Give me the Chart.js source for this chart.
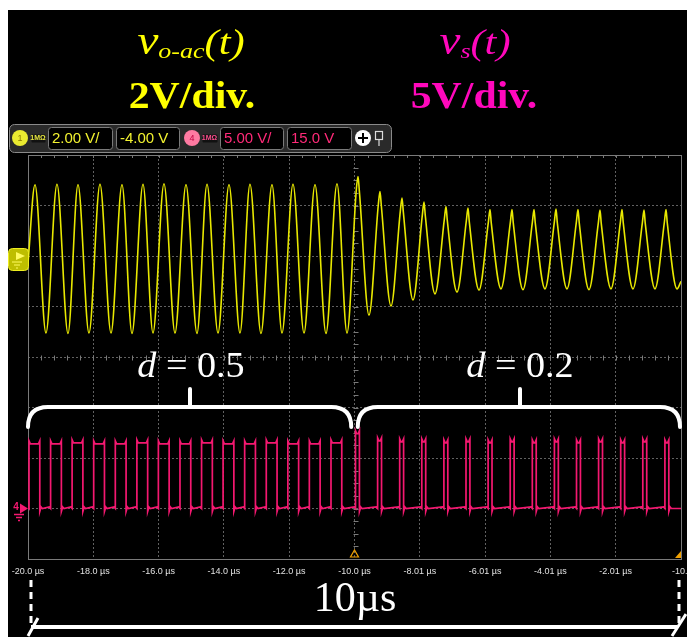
<!DOCTYPE html>
<html>
<head>
<meta charset="utf-8">
<script src="https://cdn.jsdelivr.net/npm/chart.js@4"></script>
<style>
html, body { margin: 0; padding: 0; background: #fff; }
#wrap { position: relative; width: 687px; height: 637px; }
</style>
</head>
<body>
<div id="wrap"><canvas id="scope"></canvas></div>
<script>
// time axis (µs)
const xTickValues = [-20, -18, -16, -14, -12, -10, -8, -6, -4, -2, 0];
const xTickLabels = ['-20.0 µs', '-18.0 µs', '-16.0 µs', '-14.0 µs', '-12.0 µs', '-10.0 µs',
                     '-8.01 µs', '-6.01 µs', '-4.01 µs', '-2.01 µs', '-10.0 ns'];

// channel 1: vo-ac(t), turning points (µs, V)
// right half: spike shoulder / spike top / shoulder / trough per cycle
const voTimes = [-20.0,
  -19.786, -19.449, -19.112, -18.775, -18.469, -18.132, -17.795, -17.458, -17.121, -16.815,
  -16.478, -16.172, -15.835, -15.498, -15.161, -14.824, -14.518, -14.181, -13.844, -13.507,
  -13.201, -12.864, -12.527, -12.220, -11.884, -11.547, -11.210, -10.873, -10.536, -10.230,
  -9.943, -9.893, -9.853, -9.556,   -9.269, -9.219, -9.179, -8.882,
  -8.595, -8.545, -8.505, -8.208,   -7.921, -7.871, -7.831, -7.534,
  -7.248, -7.198, -7.158, -6.861,   -6.574, -6.524, -6.484, -6.187,
  -5.900, -5.850, -5.810, -5.513,   -5.226, -5.176, -5.136, -4.839,
  -4.552, -4.502, -4.462, -4.165,   -3.878, -3.828, -3.788, -3.491,
  -3.205, -3.155, -3.115, -2.818,   -2.531, -2.481, -2.441, -2.144,
  -1.857, -1.807, -1.767, -1.470,   -1.183, -1.133, -1.093, -0.796,
  -0.509, -0.459, -0.419, -0.122,   0.0];
const voVolts = [-0.3,
  2.82, -3.05, 2.84, -3.07, 2.82, -3.05, 2.84, -3.05, 2.82, -3.07,
  2.84, -3.05, 2.86, -3.05, 2.82, -3.07, 2.84, -3.05, 2.82, -3.05,
  2.84, -3.07, 2.82, -3.05, 2.84, -3.05, 2.82, -3.07, 2.86, -3.05,
  2.65, 3.15, 2.60, -2.34,   2.05, 2.55, 2.00, -1.98,
  1.80, 2.30, 1.75, -1.74,   1.64, 2.14, 1.59, -1.50,
  1.46, 1.96, 1.41, -1.43,   1.40, 1.90, 1.35, -1.35,
  1.34, 1.84, 1.29, -1.30,   1.34, 1.84, 1.29, -1.33,
  1.34, 1.84, 1.29, -1.30,   1.36, 1.86, 1.31, -1.30,
  1.34, 1.84, 1.29, -1.33,   1.32, 1.82, 1.27, -1.30,
  1.34, 1.84, 1.29, -1.30,   1.32, 1.82, 1.27, -1.30,
  1.34, 1.84, 1.29, -1.30,   -1.0];

// channel 4: vs(t) switching pulses (µs, V)
const vsRise = [-19.969, -19.308, -18.649, -17.988, -17.326, -16.665, -16.007, -15.345,
  -14.684, -14.025, -13.364, -12.702, -12.041, -11.383, -10.720,
  -9.969, -9.292, -8.616, -7.939, -7.262, -6.585, -5.908, -5.231,
  -4.554, -3.877, -3.200, -2.524, -1.847, -1.170, -0.493];
const vsFall = [-19.639, -18.978, -18.319, -17.658, -16.996, -16.335, -15.677, -15.015,
  -14.354, -13.695, -13.034, -12.372, -11.711, -11.053, -10.390,
  -9.849, -9.172, -8.496, -7.819, -7.142, -6.465, -5.788, -5.111,
  -4.434, -3.757, -3.080, -2.404, -1.727, -1.050, -0.373];
const vsHigh = [6.4, 6.4, 6.5, 6.4, 6.4, 6.5, 6.4, 6.4, 6.5, 6.4, 6.4, 6.5, 6.4, 6.4, 6.5,
  7.4, 6.7, 6.6, 6.6, 6.5, 6.6, 6.5, 6.6, 6.5, 6.6, 6.5, 6.6, 6.5, 6.6, 6.5];

// edge ringing look of the probe trace
const vsRing = 0.3, ringDt = 0.04;

const voData = voTimes.map((t, i) => ({x: t, y: voVolts[i]}));
const vsData = [{x: -20, y: 0}];
vsRise.forEach((t, i) => {
    const h = vsHigh[i];
    vsData.push({x: t - ringDt, y: vsRing * 0.5}, {x: t, y: 0}, {x: t, y: h + vsRing}, {x: t + ringDt, y: h},
                {x: vsFall[i] - ringDt, y: h}, {x: vsFall[i], y: h + vsRing}, {x: vsFall[i], y: -vsRing},
                {x: vsFall[i] + ringDt, y: vsRing * 0.5}, {x: vsFall[i] + 2 * ringDt, y: 0});
});
vsData.push({x: 0, y: 0});

const YEL = '#e8e800';
const PINK = '#f41870';
const SERIF = '"Liberation Serif", "DejaVu Serif", serif';
const SANS = '"Liberation Sans", Arial, sans-serif';

function drawParts(ctx, parts, cx, baseline, color, sx) {
    sx = sx || 1;
    let w = 0;
    parts.forEach(p => { ctx.font = p.f; w += ctx.measureText(p.t).width; });
    ctx.save();
    ctx.translate(cx - w * sx / 2, baseline);
    ctx.scale(sx, 1);
    let x = 0;
    ctx.fillStyle = color;
    ctx.textAlign = 'left';
    ctx.textBaseline = 'alphabetic';
    parts.forEach(p => {
        ctx.font = p.f;
        ctx.fillText(p.t, x, p.dy || 0);
        x += ctx.measureText(p.t).width;
    });
    ctx.restore();
}

function box(ctx, x0, x1, y0, y1, r, fill, stroke) {
    ctx.beginPath();
    ctx.roundRect(x0 + 0.5, y0 + 0.5, x1 - x0, y1 - y0, r);
    ctx.fillStyle = fill;
    ctx.fill();
    if (stroke) { ctx.strokeStyle = stroke; ctx.lineWidth = 1; ctx.stroke(); }
}

const scopeFace = {
    id: 'scopeFace',
    beforeDraw: chart => {
        const ctx = chart.ctx;
        ctx.save();
        ctx.fillStyle = '#fff';
        ctx.fillRect(0, 0, chart.width, chart.height);
        ctx.fillStyle = '#000';
        ctx.fillRect(8, 10, chart.width - 8, chart.height - 10);

        // headings
        drawParts(ctx, [
            {t: 'v', f: 'italic 40px ' + SERIF},
            {t: 'o-ac', f: 'italic 22px ' + SERIF, dy: 4},
            {t: '(t)', f: 'italic 36px ' + SERIF}
        ], 191, 54, '#ffff00', 1.18);
        drawParts(ctx, [
            {t: 'v', f: 'italic 40px ' + SERIF},
            {t: 's', f: 'italic 22px ' + SERIF, dy: 4},
            {t: '(t)', f: 'italic 36px ' + SERIF}
        ], 475, 54, '#ff08bc', 1.18);
        drawParts(ctx, [{t: '2V/div.', f: 'bold 38px ' + SERIF}], 192, 108, '#ffff00', 1.1);
        drawParts(ctx, [{t: '5V/div.', f: 'bold 38px ' + SERIF}], 474, 108, '#ff08bc', 1.1);

        // channel toolbar
        box(ctx, 9, 391, 124, 152, 5, '#2a2a2a', '#8a8a8a');
        ctx.textBaseline = 'middle';
        ctx.textAlign = 'center';
        ctx.beginPath(); ctx.arc(20, 138, 8, 0, Math.PI * 2); ctx.fillStyle = '#eaea30'; ctx.fill();
        ctx.font = '9px ' + SANS; ctx.fillStyle = '#8a7a00'; ctx.fillText('1', 20, 139);
        ctx.beginPath(); ctx.arc(192, 138, 8, 0, Math.PI * 2); ctx.fillStyle = '#ff7aa2'; ctx.fill();
        ctx.fillStyle = '#c00040'; ctx.fillText('4', 192, 139);
        ctx.font = 'bold 7px ' + SANS;
        box(ctx, 31, 45, 134, 142, 1, '#111', null);
        ctx.fillStyle = '#e8e840'; ctx.fillText('1MΩ', 38, 138.5);
        box(ctx, 202, 217, 134, 142, 1, '#111', null);
        ctx.fillStyle = '#ff5090'; ctx.fillText('1MΩ', 209.5, 138.5);
        const fields = [[48, 112, '2.00 V/', '#f2f230'], [116, 179, '-4.00 V', '#f2f230'],
                        [220, 283, '5.00 V/', '#ff2a78'], [287, 351, '15.0 V', '#ff2a78']];
        fields.forEach(f => {
            box(ctx, f[0], f[1], 127, 149, 3, '#000', '#7a7a7a');
            ctx.font = '15px ' + SANS; ctx.textAlign = 'left';
            ctx.fillStyle = f[3]; ctx.fillText(f[2], f[0] + 4, 139);
        });
        ctx.beginPath(); ctx.arc(363, 138, 8, 0, Math.PI * 2); ctx.fillStyle = '#fff'; ctx.fill();
        ctx.strokeStyle = '#000'; ctx.lineWidth = 2;
        ctx.beginPath(); ctx.moveTo(358, 138); ctx.lineTo(368, 138); ctx.moveTo(363, 133); ctx.lineTo(363, 143); ctx.stroke();
        ctx.strokeStyle = '#ddd'; ctx.lineWidth = 1.2;
        ctx.strokeRect(375.5, 131.5, 7, 8);
        ctx.beginPath(); ctx.moveTo(379, 140); ctx.lineTo(379, 146); ctx.stroke();
        ctx.restore();
    },
    beforeDatasetsDraw: chart => {
        const ctx = chart.ctx;
        const a = chart.chartArea;
        const xs = chart.scales.x, ys = chart.scales.y1;
        ctx.save();
        ctx.strokeStyle = '#7a7a7a';
        ctx.lineWidth = 1;
        ctx.strokeRect(a.left + 0.5, a.top + 0.5, a.right - a.left, a.bottom - a.top);
        const cx = Math.round(xs.getPixelForValue(-10)) + 0.5;
        const cy = Math.round(ys.getPixelForValue(-4)) + 0.5;
        ctx.beginPath();
        for (let t = -20; t <= 0.001; t += 0.4) {
            const px = Math.round(xs.getPixelForValue(t)) + 0.5;
            ctx.moveTo(px, cy - 2); ctx.lineTo(px, cy + 3);
            ctx.moveTo(px, a.top); ctx.lineTo(px, a.top + 3);
        }
        for (let v = -12; v <= 4.001; v += 0.5) {
            const py = Math.round(ys.getPixelForValue(v)) + 0.5;
            ctx.moveTo(cx - 2, py); ctx.lineTo(cx + 3, py);
        }
        ctx.stroke();
        ctx.restore();
    },
    afterDraw: chart => {
        const ctx = chart.ctx;
        const xs = chart.scales.x;
        const a = chart.chartArea;
        ctx.save();

        // time labels
        ctx.font = '9px ' + SANS;
        ctx.fillStyle = '#e0e0e0';
        ctx.textBaseline = 'middle';
        xTickValues.forEach((v, i) => {
            const px = xs.getPixelForValue(v);
            if (i === xTickValues.length - 1) { ctx.textAlign = 'left'; ctx.fillText(xTickLabels[i], px - 9, 572); }
            else { ctx.textAlign = 'center'; ctx.fillText(xTickLabels[i], px, 572); }
        });

        // trigger markers
        ctx.fillStyle = '#f0a000'; ctx.strokeStyle = '#f0a000'; ctx.lineWidth = 1.2;
        const tx = xs.getPixelForValue(-10);
        ctx.beginPath(); ctx.moveTo(tx - 4, a.bottom - 2); ctx.lineTo(tx + 4, a.bottom - 2); ctx.lineTo(tx, a.bottom - 9); ctx.closePath(); ctx.stroke();
        ctx.beginPath(); ctx.moveTo(a.right - 6, a.bottom - 1); ctx.lineTo(a.right, a.bottom - 1); ctx.lineTo(a.right, a.bottom - 8); ctx.closePath(); ctx.fill();

        // ground markers
        const g1 = chart.scales.y1.getPixelForValue(0);
        box(ctx, 8, 28, g1 - 8, g1 + 14, 4, 'rgba(200,200,0,0.95)', '#eeee20');
        ctx.fillStyle = '#fffb60';
        ctx.beginPath(); ctx.moveTo(16, g1 - 4); ctx.lineTo(25, g1); ctx.lineTo(16, g1 + 4); ctx.closePath(); ctx.fill();
        ctx.strokeStyle = '#fffb60'; ctx.lineWidth = 1;
        ctx.beginPath(); ctx.moveTo(12, g1 + 6); ctx.lineTo(22, g1 + 6); ctx.moveTo(14, g1 + 9); ctx.lineTo(20, g1 + 9); ctx.moveTo(16, g1 + 12); ctx.lineTo(18, g1 + 12); ctx.stroke();
        const g4 = chart.scales.y4.getPixelForValue(0);
        ctx.fillStyle = PINK; ctx.strokeStyle = PINK;
        ctx.beginPath(); ctx.moveTo(20, g4 - 5); ctx.lineTo(28, g4); ctx.lineTo(20, g4 + 5); ctx.closePath(); ctx.fill();
        ctx.font = 'bold 10px ' + SANS; ctx.textAlign = 'center'; ctx.fillText('4', 16, g4 - 1);
        ctx.lineWidth = 1.5;
        ctx.beginPath(); ctx.moveTo(14, g4 + 6); ctx.lineTo(24, g4 + 6); ctx.moveTo(16, g4 + 9); ctx.lineTo(22, g4 + 9); ctx.moveTo(18, g4 + 12); ctx.lineTo(20, g4 + 12); ctx.stroke();

        // duty-cycle braces
        ctx.strokeStyle = '#fff'; ctx.lineWidth = 4; ctx.lineCap = 'round';
        const braceY = 407, endY = 427, r = 20;
        const braces = [[a.left, xs.getPixelForValue(-10.1), 190], [xs.getPixelForValue(-9.9), a.right - 1, 520]];
        braces.forEach(b => {
            ctx.beginPath();
            ctx.moveTo(b[0], endY);
            ctx.quadraticCurveTo(b[0], braceY, b[0] + r, braceY);
            ctx.lineTo(b[1] - r, braceY);
            ctx.quadraticCurveTo(b[1], braceY, b[1], endY);
            ctx.moveTo(b[2], braceY);
            ctx.lineTo(b[2], 389);
            ctx.stroke();
        });
        drawParts(ctx, [{t: 'd', f: 'italic 36px ' + SERIF}, {t: ' = 0.5', f: '36px ' + SERIF}], 191, 377, '#fff', 1.06);
        drawParts(ctx, [{t: 'd', f: 'italic 36px ' + SERIF}, {t: ' = 0.2', f: '36px ' + SERIF}], 520, 377, '#fff', 1.06);

        // 10 µs span
        ctx.lineCap = 'butt';
        ctx.lineWidth = 3;
        ctx.setLineDash([7, 5]);
        ctx.beginPath();
        ctx.moveTo(31, 580); ctx.lineTo(31, 624);
        ctx.moveTo(679, 580); ctx.lineTo(679, 624);
        ctx.stroke();
        ctx.setLineDash([]);
        ctx.lineWidth = 4;
        ctx.beginPath(); ctx.moveTo(31, 627); ctx.lineTo(677, 627); ctx.stroke();
        ctx.lineWidth = 3;
        ctx.beginPath();
        ctx.moveTo(28, 636); ctx.lineTo(38, 618);
        ctx.moveTo(672, 636); ctx.lineTo(686, 614);
        ctx.stroke();
        drawParts(ctx, [{t: '10µs', f: '42px ' + SERIF}], 355, 611, '#fff');
        ctx.restore();
    }
};

const scope = new Chart(document.getElementById('scope').getContext('2d'), {
    type: 'line',
    plugins: [scopeFace],
    data: {
        datasets: [
            {
                label: 'vo-ac(t)',
                data: voData,
                yAxisID: 'y1',
                borderColor: YEL,
                borderWidth: 1.6,
                pointRadius: 0,
                cubicInterpolationMode: 'monotone'
            },
            {
                label: 'vs(t)',
                data: vsData,
                yAxisID: 'y4',
                borderColor: PINK,
                borderWidth: 1.7,
                pointRadius: 0,
                tension: 0
            }
        ]
    },
    options: {
        responsive: true,
        maintainAspectRatio: false,
        animation: false,
        devicePixelRatio: 1,
        layout: {padding: {left: 28, right: 6, top: 155, bottom: 78}},
        plugins: {
            legend: {display: false},
            title: {display: false},
            tooltip: {enabled: false}
        },
        scales: {
            x: {
                type: 'linear',
                min: -20,
                max: 0,
                afterBuildTicks: scale => { scale.ticks = xTickValues.map(v => ({value: v})); },
                ticks: {display: false},
                grid: {color: 'rgba(130,130,130,0.75)', lineWidth: 1, drawTicks: false},
                border: {display: false, dash: [2, 2]}
            },
            y1: {
                type: 'linear',
                position: 'left',
                min: -12,
                max: 4,
                ticks: {display: false, stepSize: 2},
                grid: {color: 'rgba(130,130,130,0.75)', lineWidth: 1, drawTicks: false},
                border: {display: false, dash: [2, 2]}
            },
            y4: {
                type: 'linear',
                display: false,
                min: -5,
                max: 35
            }
        }
    }
});
</script>
</body>
</html>
